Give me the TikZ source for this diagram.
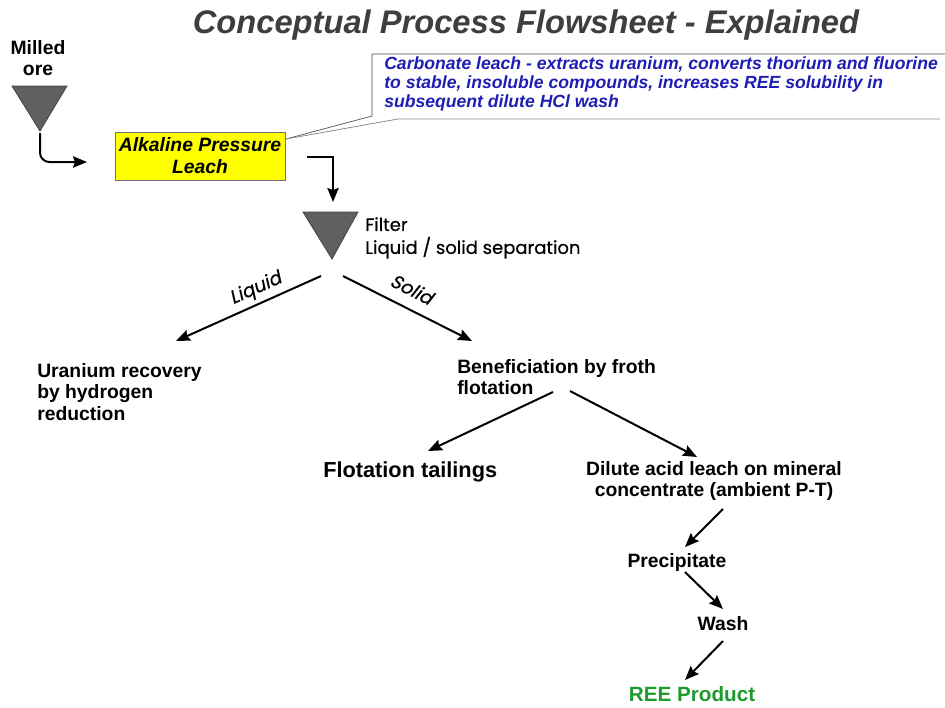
\documentclass[tikz,border=0pt]{standalone}
\usepackage{fontspec}
\setmainfont{Liberation Sans}
\newfontfamily\geofont[FakeBold=0.5]{Poppins}
\newfontfamily\geoslant[FakeSlant=0.2,FakeBold=0.5]{Poppins}
\usetikzlibrary{arrows.meta}

\definecolor{titlegray}{RGB}{62,62,62}
\definecolor{noteblue}{RGB}{30,30,180}
\definecolor{productgreen}{RGB}{30,155,45}
\definecolor{hopper}{RGB}{96,96,96}
\definecolor{leachyellow}{RGB}{255,255,0}

\tikzset{
	flow/.style={line width=1.5pt, -{Stealth[length=10.5pt,width=8.5pt,inset=1.5pt]}},
	label/.style={font=\bfseries\fontsize{14.5pt}{16.2pt}\selectfont, inner sep=0pt, align=left},
	hopperfill/.style={fill=hopper, draw=hopper!70!black, line width=0.6pt},
	splitlbl/.style={inner sep=0pt, font=\geoslant\fontsize{14pt}{16pt}\selectfont},
}

\begin{document}
\begin{tikzpicture}[x=0.75pt,y=0.75pt,yscale=-1,xscale=1]
	\useasboundingbox [fill=white] (0,0) rectangle (945,707);
	
	% Title
	\node [inner sep=0pt, text=titlegray, font=\bfseries\itshape\fontsize{24.5pt}{28pt}\selectfont] (title) at (526,25) {Conceptual Process Flowsheet - Explained};
	
	% Text Node: feed
	\node [label, align=center, anchor=north] (milled) at (38,40) {Milled\\ore};
	%Shape: feed hopper
	\draw [hopperfill] (12,86) -- (67,86) -- (40,131) -- cycle ;
	\coordinate (feedout) at (40,133);
	\coordinate (leachin) at (87,162);
	
	% Leach box
	\node [draw=black!55, line width=0.6pt, fill=leachyellow, minimum width=127.5pt, minimum height=36pt, inner sep=0pt, align=center, font=\bfseries\itshape\fontsize{14.5pt}{16.5pt}\selectfont] (leach) at (200,156) {Alkaline Pressure\\Leach};
	
	%Callout
	\coordinate (calltip) at (286,139);
	\draw [black!70, line width=0.5pt] (calltip) -- (372,116) -- (372,54) -- (946,54) ;
	\draw [black!45, line width=0.6pt] (calltip) -- (398,119) -- (940,119) ;
	\node [anchor=north west, inner sep=0pt, align=left, text=noteblue, font=\bfseries\itshape\fontsize{13.2pt}{14.3pt}\selectfont] (note) at (384,56) {Carbonate leach - extracts uranium, converts thorium and fluorine\\to stable, insoluble compounds, increases REE solubility in\\subsequent dilute HCl wash};
	
	\draw [flow, rounded corners=7] (feedout) |- (leachin) ;
	
	% Filter
	\coordinate (leachout) at (307,157);
	\coordinate (filterin) at (333,202);
	\draw [flow] (leachout) -| (filterin) ;
	\draw [hopperfill] (303,212) -- (358,212) -- (332,259) -- cycle ;
	\node [anchor=north west, inner sep=0pt, align=left, font=\geofont\fontsize{13.5pt}{17.2pt}\selectfont] (filter) at (365,217) {Filter\\Liquid / solid separation};
	
	%Straight Lines: split
	\coordinate (liquidout) at (321,276);
	\coordinate (solidout) at (343,276);
	\coordinate (uraniumin) at (176,341);
	\coordinate (beneficin) at (472,341);
	\draw [flow] (liquidout) -- (uraniumin) ;
	\draw [flow] (solidout) -- (beneficin) ;
	\node [splitlbl, rotate=24] (liquidlbl) at (256,289) {Liquid};
	\node [splitlbl, rotate=-27] (solidlbl) at (412,289) {Solid};
	
	% Text Node
	\node [label, anchor=north west] (uranium) at (37,363) {Uranium recovery\\by hydrogen\\reduction};
	% Text Node
	\node [label, anchor=north west] (benefic) at (457,359) {Beneficiation by froth\\flotation};
	
	\coordinate (benefout1) at (553,392);
	\coordinate (benefout2) at (570,391);
	\coordinate (tailin) at (428,451);
	\coordinate (dilutein) at (697,457);
	\draw [flow] (benefout1) -- (tailin) ;
	\draw [flow] (benefout2) -- (dilutein) ;
	
	% Text Node
	\node [label, anchor=west, font=\bfseries\fontsize{16.3pt}{18pt}\selectfont] (tailings) at (323,472) {Flotation tailings};
	% Text Node
	\node [label, align=center] (dilute) at (714,481) {Dilute acid leach on mineral\\concentrate (ambient P-T)};
	
	\coordinate (diluteout) at (723,509);
	\coordinate (precipin) at (685,547);
	\draw [flow] (diluteout) -- (precipin) ;
	\node [label] (precip) at (677,562) {Precipitate};
	
	\coordinate (precipout) at (685,572);
	\coordinate (washin) at (723,609);
	\draw [flow] (precipout) -- (washin) ;
	\node [label] (wash) at (723,624) {Wash};
	
	\coordinate (washout) at (723,641);
	\coordinate (productin) at (685,680);
	\draw [flow] (washout) -- (productin) ;
	\node [label, text=productgreen, font=\bfseries\fontsize{15.5pt}{18pt}\selectfont] (product) at (692,694) {REE Product};
	
\end{tikzpicture}
\end{document}
